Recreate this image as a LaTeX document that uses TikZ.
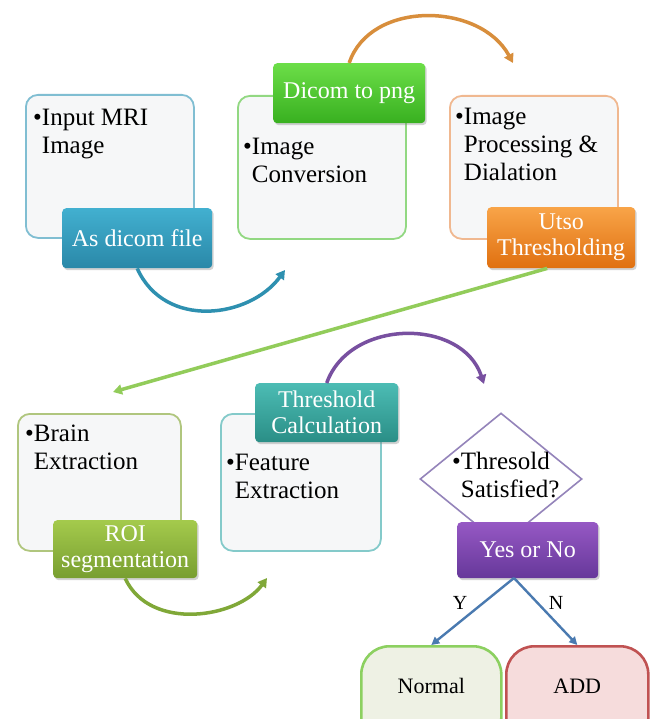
\documentclass[tikz,border=0pt]{standalone}
\usepackage{fontspec}
\setmainfont{Liberation Serif}
\usetikzlibrary{shapes.geometric,shadows,arrows.meta}
\definecolor{boxfill}{HTML}{F6F7F8}
\definecolor{bA}{HTML}{80BED2}
\definecolor{bB}{HTML}{92D882}
\definecolor{bC}{HTML}{F0B890}
\definecolor{bD}{HTML}{B0C67E}
\definecolor{bE}{HTML}{84CACA}
\definecolor{bF}{HTML}{9484BA}
\definecolor{lAt}{HTML}{42B0D0}\definecolor{lAb}{HTML}{2A88A8}
\definecolor{lBt}{HTML}{6CDE48}\definecolor{lBb}{HTML}{38B020}
\definecolor{lCt}{HTML}{F8A448}\definecolor{lCb}{HTML}{E07010}
\definecolor{lDt}{HTML}{A4CA4C}\definecolor{lDb}{HTML}{789E30}
\definecolor{lEt}{HTML}{4CBCB4}\definecolor{lEb}{HTML}{2A8E86}
\definecolor{lFt}{HTML}{9658C4}\definecolor{lFb}{HTML}{66389A}
\definecolor{aA}{HTML}{2E90B0}
\definecolor{aB}{HTML}{D88E3C}
\definecolor{aC}{HTML}{92CC5A}
\definecolor{aD}{HTML}{80A838}
\definecolor{aE}{HTML}{7850A0}
\definecolor{aF}{HTML}{4A7AB0}
\definecolor{normfill}{HTML}{EEF1E4}
\definecolor{normline}{HTML}{8CD060}
\definecolor{addfill}{HTML}{F6DCDC}
\definecolor{addline}{HTML}{C05252}
\begin{document}
\begin{tikzpicture}[x=1pt,y=-1pt,
  mainbox/.style={draw=#1, line width=1.8pt, rounded corners=12pt, fill=boxfill,
    anchor=north west, inner sep=0pt, minimum width=168pt, minimum height=143pt},
  maintext/.style={anchor=base west, align=left, inner sep=0pt,
    font=\fontsize{25}{28}\selectfont},
  labelbox/.style 2 args={rounded corners=4pt, anchor=north west, inner sep=0pt,
    top color=#1, bottom color=#2, text=white, align=center,
    font=\fontsize{24}{26}\selectfont,
    drop shadow={opacity=0.35, shadow xshift=1.5pt, shadow yshift=-2pt}},
  flowarrow/.style={draw=#1, line width=3.5pt, -{Triangle[length=9pt,width=10pt]}},
  endbox/.style 2 args={draw=#1, fill=#2, line width=2.6pt, rounded corners=28pt,
    anchor=north west, inner sep=0pt, minimum height=100pt, text depth=20pt,
    font=\fontsize{22}{24}\selectfont}
]
\useasboundingbox (0,0) rectangle (652,719);
\clip (0,0) rectangle (652,719);
\fill[white] (0,0) rectangle (652,719);

% main boxes
\node[mainbox=bA] (b1) at (25,94) {};
\node[mainbox=bB] (b2) at (237,95) {};
\node[mainbox=bC] (b3) at (449,95) {};
\node[mainbox=bD, minimum width=163pt, minimum height=137pt] (b4) at (17,413) {};
\node[mainbox=bE, minimum width=160pt, minimum height=137pt] (b5) at (220,413) {};

% main texts (anchored at the baseline of the last line)
\node[maintext] (t1) at (33,154) {•Input MRI\\\phantom{•}Image};
\node[maintext] (t2) at (243,183) {•Image\\\phantom{•}Conversion};
\node[maintext] (t3) at (455,181) {•Image\\\phantom{•}Processing \&\\\phantom{•}Dialation};
\node[maintext] (t4) at (25,469) {•Brain\\\phantom{•}Extraction};
\node[maintext] (t5) at (226,498) {•Feature\\\phantom{•}Extraction};

% decision diamond
\node[diamond, draw=bF, line width=1.6pt, fill=white, inner sep=0pt,
  minimum width=162pt, minimum height=132pt] (dia) at (501,479) {};
\node[maintext] (t6) at (452,497) {•Thresold\\\phantom{•}Satisfied?};

% label boxes
\node[labelbox={lAt}{lAb}, minimum width=150pt, minimum height=60pt] (l1) at (62,208) {As dicom file};
\node[labelbox={lBt}{lBb}, minimum width=152pt, minimum height=60pt] (l2) at (273,63) {Dicom to png};
\node[labelbox={lCt}{lCb}, minimum width=148pt, minimum height=61pt] (l3) at (487,207) {Utso\\Thresholding};
\node[labelbox={lDt}{lDb}, minimum width=144pt, minimum height=58pt] (l4) at (53,520) {ROI\\segmentation};
\node[labelbox={lEt}{lEb}, minimum width=143pt, minimum height=59pt] (l5) at (255,383) {Threshold\\Calculation};
\node[labelbox={lFt}{lFb}, minimum width=141pt, minimum height=56pt] (l6) at (457,522) {Yes or No};

% end boxes
\node[endbox={normline}{normfill}, minimum width=140pt] (norm) at (360,645) {Normal};
\node[endbox={addline}{addfill}, minimum width=142pt] (add) at (505,645) {ADD};

% free arrow ends
\coordinate (e1) at (285,270);
\coordinate (e2) at (513,63);
\coordinate (e3) at (113,392);
\coordinate (e4) at (267,578);
\coordinate (e5) at (484,384);
\coordinate (apex) at (514,578);

% flow arrows
\draw[flowarrow=aA] (l1.south) .. controls (165,330) and (250,318) .. (e1);
\draw[flowarrow=aB] (l2.north) .. controls (370,0) and (480,2) .. (e2);
\draw[flowarrow=aC] ([xshift=-14pt]l3.south) -- (e3);
\draw[flowarrow=aD] (l4.south) .. controls (150,632) and (238,618) .. (e4);
\draw[flowarrow=aE] (l5.north) .. controls (350,318) and (462,318) .. (e5);

% decision branches
\draw[draw=aF, line width=2.4pt, -{Triangle[length=8pt,width=8pt]}] (apex) -- (norm.north);
\draw[draw=aF, line width=2.4pt, -{Triangle[length=8pt,width=8pt]}] (apex) -- (add.north);
\node[font=\fontsize{20}{22}\selectfont] (ly) at (460,603) {Y};
\node[font=\fontsize{20}{22}\selectfont] (ln) at (556,603) {N};
\end{tikzpicture}
\end{document}
